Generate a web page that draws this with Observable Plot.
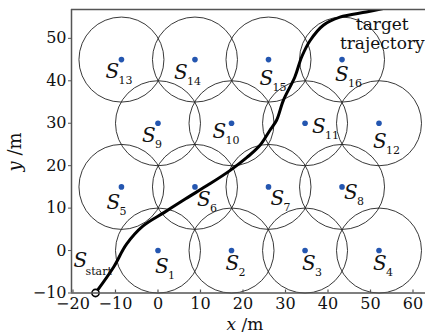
<!DOCTYPE html>
<html><head><meta charset="utf-8">
<script src="https://cdn.jsdelivr.net/npm/d3@7"></script>
<script src="https://cdn.jsdelivr.net/npm/@observablehq/plot@0.6"></script>
<style>body{margin:0;background:#fff} svg{display:block} svg text{font-family:'DejaVu Serif',serif}</style>
</head><body><div id="chart"></div>
<script>
// ---- data ----
const sensorIds = ["1","2","3","4","5","6","7","8","9","10","11","12","13","14","15","16"];
const sensorX = [0, 17.3, 34.6, 52, -8.6, 8.7, 26, 43.3, 0, 17.3, 34.6, 52, -8.6, 8.7, 26, 43.3];
const sensorY = [0, 0, 0, 0, 15, 15, 15, 15, 30, 30, 30, 30, 45, 45, 45, 45];
const sensorRadius = 10;
const trajX = [-14.7, -10.5, -7.4, -3.5, 1.5, 6.5, 12, 17, 21, 24, 26.3, 27.9, 29.5, 32.2, 33.8, 35.8, 38.9, 42.8, 49, 53];
const trajY = [-10, -4, 1.5, 5.8, 9, 12.2, 15.6, 18.9, 22, 24.8, 28.3, 30.7, 35.4, 40.9, 45.6, 49.5, 53.1, 55, 56.2, 57];
const xTicks = [-20, -10, 0, 10, 20, 30, 40, 50, 60];
const yTicks = [-10, 0, 10, 20, 30, 40, 50];

// ---- layout / style ----
const W = 425, H = 334, mL = 71, mR = 0, mT = 9, mB = 41.5;
const xDomain = [-20.35, 62.94], yDomain = [-10, 56.8];
const kx = (W - mL - mR) / (xDomain[1] - xDomain[0]);
const plotH = H - mT - mB;
const axisColor = "#555";
const serif = "'DejaVu Serif', serif";
// label offsets (pixels) of the "S" glyph relative to each sensor dot: [dx, dy(baseline)]
const labelOffsets = [[-3,22],[-6,19],[-3,19],[-6,19],[-15,22],[2,19],[2,18],[2,12],[-16,19],[-19,15],[7,10],[-6,25],[-16,18],[-21,19],[-9,25],[-7,21]];

const sensors = sensorIds.map((id, i) => ({id, x: sensorX[i], y: sensorY[i], r: sensorRadius}));
const traj = trajX.map((x, i) => ({x, y: trajY[i]}));

const labelMarks = sensors.flatMap((s, i) => {
  const [dx, dy] = labelOffsets[i];
  return [
    Plot.text([s], {x: "x", y: "y", text: () => "S", dx, dy, textAnchor: "start", lineAnchor: "bottom",
      fontFamily: serif, fontStyle: "italic", fontSize: 20, fill: "#111"}),
    Plot.text([s], {x: "x", y: "y", text: "id", dx: dx + 13, dy: dy + 6, textAnchor: "start", lineAnchor: "bottom",
      fontFamily: serif, fontSize: 11, fill: "#111"})
  ];
});

const plot = Plot.plot({
  width: W, height: H, marginLeft: mL, marginRight: mR, marginTop: mT, marginBottom: mB,
  x: {domain: xDomain},
  y: {domain: yDomain},
  r: {type: "linear", domain: [0, sensorRadius], range: [0, sensorRadius * kx]},
  style: {fontFamily: serif, background: "white", color: "#111"},
  marks: [
    Plot.dot(sensors, {x: "x", y: "y", r: "r", stroke: "#222", strokeWidth: 0.9, fill: "none"}),
    Plot.dot(sensors, {x: "x", y: "y", r: 2.8, fill: "#2456b0", stroke: "none"}),
    Plot.line(traj, {x: "x", y: "y", stroke: "#000", strokeWidth: 3, curve: "catmull-rom", clip: true}),
    Plot.dot(traj.slice(0, 1), {x: "x", y: "y", r: 3.6, stroke: "#000", strokeWidth: 1.6, fill: "white"}),
    ...labelMarks,
    Plot.text(traj.slice(0, 1), {x: "x", y: "y", text: () => "S", dx: -22, dy: -26, textAnchor: "start", lineAnchor: "bottom",
      fontFamily: serif, fontStyle: "italic", fontSize: 20, fill: "#111"}),
    Plot.text(traj.slice(0, 1), {x: "x", y: "y", text: () => "start", dx: -10, dy: -18, textAnchor: "start", lineAnchor: "bottom",
      fontFamily: serif, fontSize: 11, fill: "#111"}),
    Plot.text(traj.slice(-1), {x: "x", y: "y", text: () => "target\ntrajectory", dx: -1, dy: 8, textAnchor: "middle", lineAnchor: "top",
      lineHeight: 1.12, fontFamily: serif, fontSize: 17, fill: "#111"}),
    Plot.ruleY([yDomain[0]], {stroke: axisColor, strokeWidth: 1.5}),
    Plot.ruleY([yDomain[1]], {stroke: axisColor, strokeWidth: 1.5}),
    Plot.ruleX([xDomain[0]], {stroke: axisColor, strokeWidth: 1.5}),
    Plot.tickX(xTicks, {x: d => d, insetTop: plotH - 3, stroke: axisColor, strokeWidth: 1.2}),
    Plot.axisX(xTicks, {tickSize: 0, tickPadding: 5, fontSize: 16, fontFamily: serif, label: null}),
    Plot.axisY(yTicks, {tickSize: 3, tickPadding: 2, fontSize: 16, fontFamily: serif, stroke: axisColor, label: null})
  ]
});

const svg = d3.select(plot);
// axis titles
const xt = svg.append("text").attr("x", 245).attr("y", 330).attr("text-anchor", "middle")
  .attr("font-family", serif).attr("font-size", 17).attr("fill", "#111");
xt.append("tspan").attr("font-style", "italic").text("x");
xt.append("tspan").text(" /m");
const yt = svg.append("text").attr("transform", "translate(21,152) rotate(-90)").attr("text-anchor", "middle")
  .attr("font-family", serif).attr("font-size", 18).attr("fill", "#111");
yt.append("tspan").attr("font-style", "italic").text("y");
yt.append("tspan").text(" /m");

document.getElementById("chart").append(plot);
</script>
</body></html>
